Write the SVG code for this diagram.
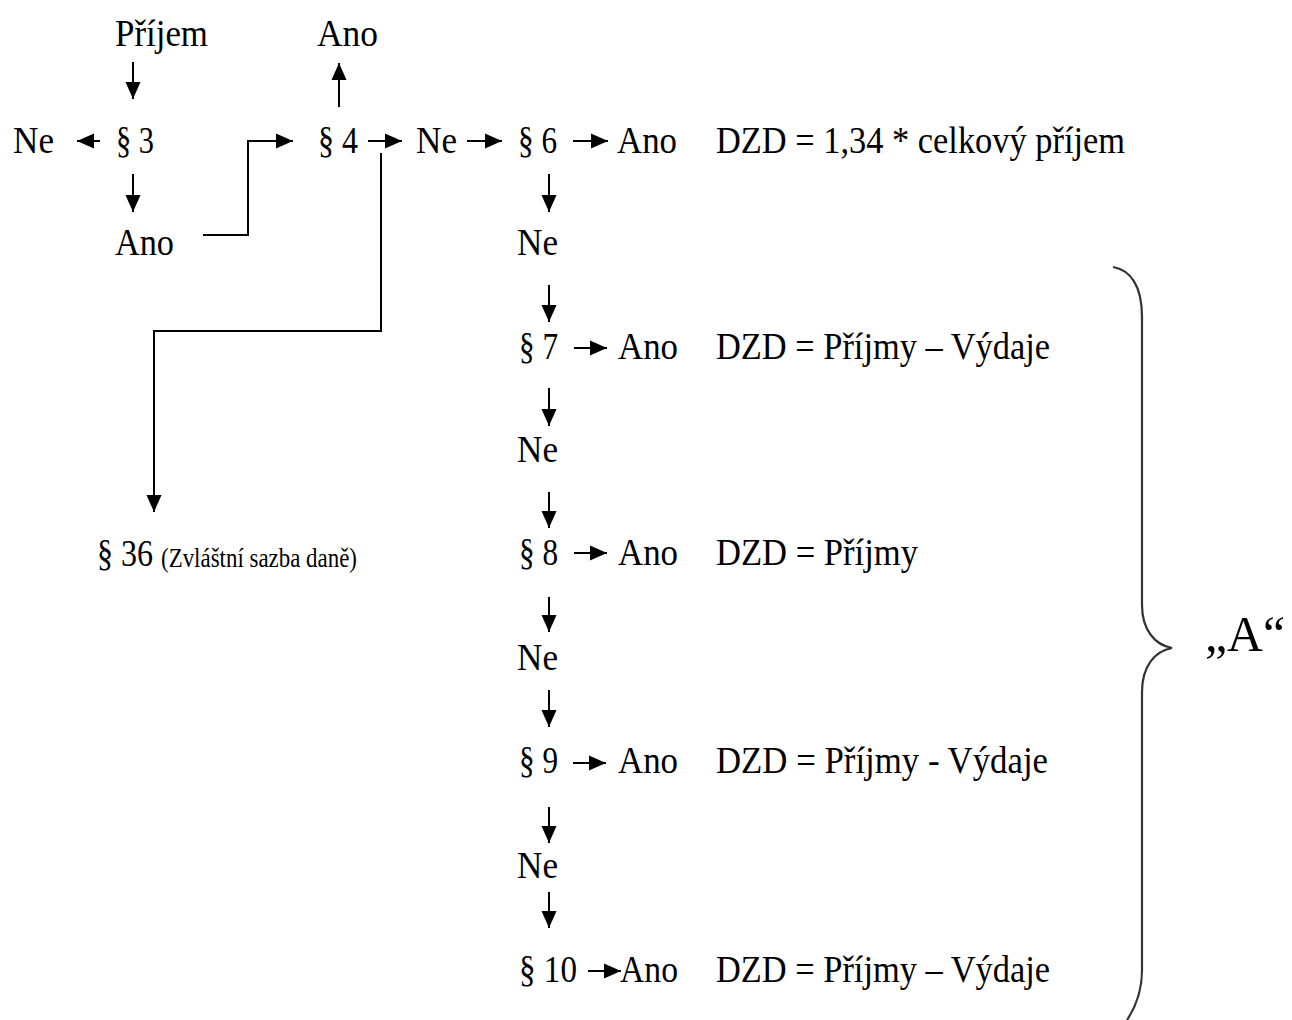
<svg xmlns="http://www.w3.org/2000/svg" width="1292" height="1020" viewBox="0 0 1292 1020">
<style>
text { font-family: "Liberation Serif", "Times New Roman", serif; font-size: 37px; fill: #000; }
.small { font-size: 27px; }
.big { font-size: 50px; }
.conn { fill: none; stroke: #000; stroke-width: 2; }
.brace { fill: none; stroke: #333; stroke-width: 2.2; }
</style>
<defs>
<marker id="ah" markerUnits="userSpaceOnUse" markerWidth="18" markerHeight="16" refX="17" refY="8" orient="auto">
<path d="M0,0.5 L17,8 L0,15.5 z" fill="#000"/>
</marker>
</defs>
<rect width="1292" height="1020" fill="#fff"/>

<g id="connectors">
<path class="conn" d="M133,62 V99" marker-end="url(#ah)"/>
<path class="conn" d="M133,174 V212" marker-end="url(#ah)"/>
<path class="conn" d="M100,141 H77" marker-end="url(#ah)"/>
<path class="conn" d="M339,107 V63" marker-end="url(#ah)"/>
<path class="conn" d="M203,235 H248 V141 H293" marker-end="url(#ah)"/>
<path class="conn" d="M368,141 H402" marker-end="url(#ah)"/>
<path class="conn" d="M381,153 V331 H154 V512" marker-end="url(#ah)"/>
<path class="conn" d="M467,141 H502" marker-end="url(#ah)"/>
<path class="conn" d="M573,141 H608" marker-end="url(#ah)"/>
<path class="conn" d="M549,174 V212" marker-end="url(#ah)"/>
<path class="conn" d="M549,285 V322" marker-end="url(#ah)"/>
<path class="conn" d="M549,388 V426" marker-end="url(#ah)"/>
<path class="conn" d="M549,492 V528" marker-end="url(#ah)"/>
<path class="conn" d="M549,597 V632" marker-end="url(#ah)"/>
<path class="conn" d="M549,690 V727" marker-end="url(#ah)"/>
<path class="conn" d="M549,807 V843" marker-end="url(#ah)"/>
<path class="conn" d="M549,892 V928" marker-end="url(#ah)"/>
<path class="conn" d="M574,348 H607" marker-end="url(#ah)"/>
<path class="conn" d="M574,553 H607" marker-end="url(#ah)"/>
<path class="conn" d="M573,763 H606" marker-end="url(#ah)"/>
<path class="conn" d="M588,971 H621" marker-end="url(#ah)"/>
</g>

<g id="n-prijem"><text x="115" y="46" textLength="93" lengthAdjust="spacingAndGlyphs">Příjem</text></g>
<g id="n-ano-top"><text x="317" y="46" textLength="61" lengthAdjust="spacingAndGlyphs">Ano</text></g>
<g id="n-ne-left"><text x="13" y="153" textLength="41" lengthAdjust="spacingAndGlyphs">Ne</text></g>
<g id="n-p3"><text x="116" y="153" textLength="38" lengthAdjust="spacingAndGlyphs">§ 3</text></g>
<g id="n-p4"><text x="318" y="153" textLength="40" lengthAdjust="spacingAndGlyphs">§ 4</text></g>
<g id="n-ne4"><text x="416" y="153" textLength="41" lengthAdjust="spacingAndGlyphs">Ne</text></g>
<g id="n-p6"><text x="518" y="153" textLength="39" lengthAdjust="spacingAndGlyphs">§ 6</text></g>
<g id="n-ano6"><text x="617" y="153" textLength="60" lengthAdjust="spacingAndGlyphs">Ano</text></g>
<g id="n-dzd6"><text x="716" y="153" textLength="409" lengthAdjust="spacingAndGlyphs">DZD = 1,34 * celkový příjem</text></g>
<g id="n-ano3"><text x="115" y="255" textLength="59" lengthAdjust="spacingAndGlyphs">Ano</text></g>
<g id="n-ne6"><text x="517" y="255" textLength="41" lengthAdjust="spacingAndGlyphs">Ne</text></g>

<g id="n-p7"><text x="519" y="359" textLength="39" lengthAdjust="spacingAndGlyphs">§ 7</text></g>
<g id="n-ano7"><text x="618" y="359" textLength="60" lengthAdjust="spacingAndGlyphs">Ano</text></g>
<g id="n-dzd7"><text x="716" y="359" textLength="334" lengthAdjust="spacingAndGlyphs">DZD = Příjmy – Výdaje</text></g>
<g id="n-ne7"><text x="517" y="462" textLength="41" lengthAdjust="spacingAndGlyphs">Ne</text></g>

<g id="n-p8"><text x="519" y="565" textLength="39" lengthAdjust="spacingAndGlyphs">§ 8</text></g>
<g id="n-ano8"><text x="618" y="565" textLength="60" lengthAdjust="spacingAndGlyphs">Ano</text></g>
<g id="n-dzd8"><text x="716" y="565" textLength="202" lengthAdjust="spacingAndGlyphs">DZD = Příjmy</text></g>
<g id="n-ne8"><text x="517" y="670" textLength="41" lengthAdjust="spacingAndGlyphs">Ne</text></g>

<g id="n-p9"><text x="519" y="773" textLength="39" lengthAdjust="spacingAndGlyphs">§ 9</text></g>
<g id="n-ano9"><text x="618" y="773" textLength="60" lengthAdjust="spacingAndGlyphs">Ano</text></g>
<g id="n-dzd9"><text x="716" y="773" textLength="332" lengthAdjust="spacingAndGlyphs">DZD = Příjmy - Výdaje</text></g>
<g id="n-ne9"><text x="517" y="878" textLength="41" lengthAdjust="spacingAndGlyphs">Ne</text></g>

<g id="n-p10"><text x="519" y="982" textLength="58" lengthAdjust="spacingAndGlyphs">§ 10</text></g>
<g id="n-ano10"><text x="620" y="982" textLength="58" lengthAdjust="spacingAndGlyphs">Ano</text></g>
<g id="n-dzd10"><text x="716" y="982" textLength="334" lengthAdjust="spacingAndGlyphs">DZD = Příjmy – Výdaje</text></g>

<g id="n-p36">
<text x="97" y="566" textLength="56" lengthAdjust="spacingAndGlyphs">§ 36</text>
<text class="small" x="161" y="567" textLength="196" lengthAdjust="spacingAndGlyphs">(Zvláštní sazba daně)</text>
</g>

<g id="brace-a">
<path class="brace" d="M1113,267 C1130,270 1142,285 1142,317 L1142,605 C1142,630 1155,645 1172,648 C1155,651 1142,666 1142,692 L1142,970 C1142,992 1135,1008 1127,1020"/>
<text class="big" x="1205" y="651" textLength="80" lengthAdjust="spacingAndGlyphs">„A“</text>
</g>
</svg>
